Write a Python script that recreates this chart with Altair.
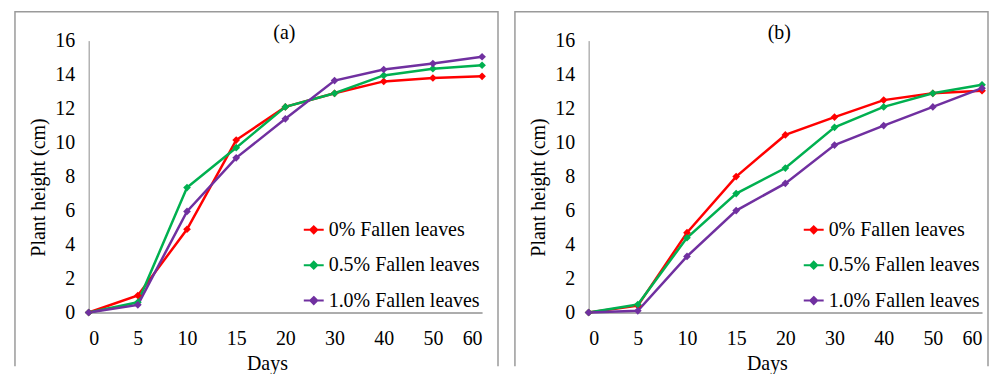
import altair as alt
import pandas as pd

# ---- data ----
DAYS = ["0", "5", "10", "15", "20", "30", "40", "50", "60"]
SERIES = ["0% Fallen leaves", "0.5% Fallen leaves", "1.0% Fallen leaves"]
COLORS = ["#FF0000", "#00B050", "#7030A0"]

# panel (a)
A_0 = [0, 1.0, 4.9, 10.15, 12.1, 12.9, 13.6, 13.8, 13.9]
A_05 = [0, 0.6, 7.35, 9.7, 12.1, 12.9, 13.95, 14.35, 14.55]
A_10 = [0, 0.45, 5.95, 9.1, 11.4, 13.65, 14.3, 14.65, 15.05]
# panel (b)
B_0 = [0, 0.4, 4.7, 8.0, 10.45, 11.5, 12.5, 12.9, 13.05]
B_05 = [0, 0.47, 4.4, 7.0, 8.5, 10.9, 12.1, 12.9, 13.4]
B_10 = [0, 0.1, 3.3, 6.0, 7.6, 9.85, 11.0, 12.1, 13.2]

FONT = "Liberation Serif"
PATH = "M-1,0H1M0,-0.35L0.35,0L0,0.35L-0.35,0Z"
VIEW_H = 356

label_expr = "[" + ",".join(f"'{d}'" for d in DAYS) + "][datum.value]"


def make_df(series_vals):
    rows = []
    for name, vals in zip(SERIES, series_vals):
        for i, (d, v) in enumerate(zip(DAYS, vals)):
            rows.append({"series": name, "idx": i, "day": d, "h": v})
    return pd.DataFrame(rows)


def make_legend():
    return alt.Legend(
        orient="none", legendX=289, legendY=208, title=None,
        symbolType=PATH, symbolSize=400, symbolStrokeWidth=2, symbolOpacity=1,
        labelFont=FONT, labelFontSize=20, labelColor="black",
        rowPadding=14.5, labelOffset=4, padding=0,
    )


def panel(series_vals, label, width, dx):
    df = make_df(series_vals)
    x = alt.X("idx:Q",
              scale=alt.Scale(domain=[0, len(DAYS) - 1], range=[74, 469], nice=False, zero=False),
              axis=alt.Axis(values=list(range(len(DAYS))), labelExpr=label_expr,
                            offset=-(VIEW_H - 302), ticks=False, grid=False,
                            domainColor="#595959", domainWidth=1,
                            labelFont=FONT, labelFontSize=20, labelColor="black",
                            labelPadding=16, labelBaseline="top",
                            title="Days", titleFont=FONT, titleFontSize=20,
                            titleFontWeight="normal", titleColor="black",
                            titleX=253, titleY=57, titleAlign="center",
                            titleBaseline="alphabetic"))
    y = alt.Y("h:Q",
              scale=alt.Scale(domain=[0, 16], range=[302, 29], nice=False),
              axis=alt.Axis(values=list(range(0, 17, 2)), offset=-74, ticks=False,
                            grid=False, domainColor="#8c8c8c", domainWidth=1,
                            labelFont=FONT, labelFontSize=20, labelColor="black",
                            labelPadding=14,
                            title="Plant height  (cm)", titleFont=FONT, titleFontSize=20,
                            titleFontWeight="normal", titleColor="black",
                            titleAngle=270, titleX=-50, titleY=176,
                            titleAlign="center", titleBaseline="middle"))
    base = alt.Chart(df)
    lines = base.mark_line(strokeWidth=2.5).encode(
        x=x, y=y,
        stroke=alt.Stroke("series:N", scale=alt.Scale(domain=SERIES, range=COLORS),
                          sort=SERIES, legend=make_legend()),
    )
    points = base.mark_point(shape="diamond", filled=True, size=60, opacity=1).encode(
        x=x, y=y,
        fill=alt.Fill("series:N", scale=alt.Scale(domain=SERIES, range=COLORS),
                      sort=SERIES, legend=make_legend()),
    )
    # frame: top, right and left edges drawn; bottom edge left open
    frame = alt.ViewBackground(stroke="#9a9a9a", strokeWidth=1.5,
                               strokeDash=[width + VIEW_H, width, VIEW_H + 10])
    return alt.layer(lines, points).properties(
        width=width, height=VIEW_H, view=frame,
        title=alt.Title(label, font=FONT, fontSize=20, fontWeight="normal",
                        anchor="middle", dx=dx, dy=47, offset=0,
                        baseline="alphabetic", color="black"),
    )


chart_a = panel([A_0, A_05, A_10], "(a)", 485, 28)
chart_b = panel([B_0, B_05, B_10], "(b)", 475, 28)

chart = alt.hconcat(chart_a, chart_b, spacing=15).resolve_legend(
    stroke="independent", fill="independent"
).configure(
    padding={"left": 6, "top": 2, "right": 0, "bottom": 0},
    background="white",
)

chart.save("out.html", embed_options={"renderer": "svg", "actions": False})
